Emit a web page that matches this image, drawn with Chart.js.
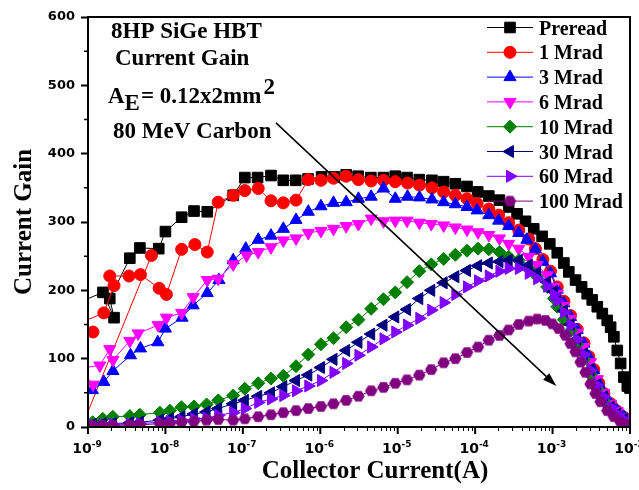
<!DOCTYPE html>
<html>
<head>
<meta charset="utf-8">
<title>8HP SiGe HBT Current Gain</title>
<script src="https://cdn.jsdelivr.net/npm/chart.js@4.4.1/dist/chart.umd.min.js"></script>
<style>
  html, body { margin: 0; padding: 0; background: #fff; }
  #wrap { width: 639px; height: 490px; }
</style>
</head>
<body>
<div id="wrap"><canvas id="gainChart" width="639" height="490"></canvas></div>
<script>
// Current gain vs collector current, one series per carbon dose.
// Each point: [collector current (A), current gain], listed in sweep order.

const preradGain = [[7.9e-10,183],[1.56e-9,197],[2.17e-9,160],[1.91e-9,188],[3.47e-9,247],[4.68e-9,262],[8.2e-9,261],[1.0e-8,286],[1.62e-8,307],[2.34e-8,316],[3.47e-8,315],[7.5e-8,339],[1.06e-7,365],[1.55e-7,365],[2.31e-7,368],[3.33e-7,361],[4.82e-7,361],[6.95e-7,363],[1.04e-6,366],[1.52e-6,366],[2.16e-6,369],[3.08e-6,367],[4.5e-6,365],[6.55e-6,365],[9.3e-6,367],[1.32e-5,365],[1.9e-5,362],[2.77e-5,361],[3.92e-5,359],[5.55e-5,356],[7.85e-5,352],[1.08e-4,344],[1.5e-4,338],[2.06e-4,332],[2.71e-4,322],[3.48e-4,312],[4.47e-4,301],[5.71e-4,290],[7.33e-4,279],[9.2e-4,268],[1.15e-3,255],[1.4e-3,240],[1.62e-3,227],[1.98e-3,215],[2.37e-3,205],[2.8e-3,195],[3.25e-3,186],[3.78e-3,176],[4.39e-3,166],[5.08e-3,156],[5.62e-3,146],[6.19e-3,132],[6.85e-3,112],[7.57e-3,93],[8.34e-3,73],[9.23e-3,60],[1.0e-2,57]];

const gain1Mrad = [[6.6e-9,251],[8.3e-10,0],[7.5e-10,139],[1.16e-9,139],[7.8e-10,152],[1.6e-9,167],[2.17e-9,207],[1.91e-9,221],[3.39e-9,221],[4.76e-9,223],[8.3e-9,203],[1.03e-8,194],[1.62e-8,260],[2.4e-8,267],[3.47e-8,256],[4.8e-8,329],[7.5e-8,339],[1.06e-7,346],[1.58e-7,349],[2.31e-7,331],[3.33e-7,328],[4.86e-7,332],[7.0e-7,362],[1.02e-6,361],[1.48e-6,364],[2.16e-6,367],[3.11e-6,362],[4.54e-6,360],[6.55e-6,361],[9.3e-6,359],[1.34e-5,357],[1.91e-5,354],[2.77e-5,350],[3.92e-5,344],[5.55e-5,339],[7.85e-5,334],[1.06e-4,327],[1.5e-4,319],[2.01e-4,310],[2.71e-4,299],[3.66e-4,288],[4.92e-4,275],[6.0e-4,261],[7.5e-4,245],[9.4e-4,228],[1.15e-3,205],[1.4e-3,184],[1.71e-3,163],[2.08e-3,143],[2.54e-3,123],[2.94e-3,103],[3.41e-3,84],[3.96e-3,64],[4.6e-3,49],[5.63e-3,34],[6.86e-3,23],[8.34e-3,14],[1.0e-2,9]];

const gain3Mrad = [[1.14e-9,54],[1.6e-9,66],[2.1e-9,82],[3.54e-9,105],[4.76e-9,115],[7.98e-9,124],[1.0e-8,144],[1.64e-8,160],[2.28e-8,178],[3.47e-8,196],[4.91e-8,215],[7.5e-8,244],[1.09e-7,261],[1.58e-7,274],[2.31e-7,280],[3.33e-7,290],[4.86e-7,303],[7.0e-7,315],[1.02e-6,323],[1.48e-6,328],[2.16e-6,329],[3.11e-6,334],[4.54e-6,337],[6.55e-6,349],[9.3e-6,334],[1.34e-5,337],[1.91e-5,336],[2.77e-5,333],[3.92e-5,329],[5.55e-5,326],[7.85e-5,322],[1.06e-4,317],[1.5e-4,310],[2.01e-4,302],[2.71e-4,294],[3.66e-4,284],[4.66e-4,274],[6.0e-4,260],[7.5e-4,242],[9.4e-4,225],[1.15e-3,201],[1.4e-3,181],[1.71e-3,161],[2.08e-3,142],[2.54e-3,122],[2.94e-3,103],[3.41e-3,83],[3.96e-3,64],[4.6e-3,49],[5.63e-3,34],[6.86e-3,24],[8.34e-3,15],[1.0e-2,10]];

const gain6Mrad = [[1.16e-9,62],[7.8e-10,86],[1.42e-9,90],[1.91e-9,114],[2.1e-9,98],[3.47e-9,126],[4.44e-9,137],[8.05e-9,149],[1.03e-8,160],[1.62e-8,167],[2.28e-8,190],[3.47e-8,215],[4.8e-8,217],[7.5e-8,238],[1.12e-7,251],[1.58e-7,256],[2.31e-7,263],[3.33e-7,273],[4.86e-7,276],[7.0e-7,284],[1.02e-6,287],[1.48e-6,290],[2.16e-6,294],[3.11e-6,297],[4.54e-6,305],[6.55e-6,301],[9.3e-6,302],[1.32e-5,302],[1.9e-5,299],[2.71e-5,297],[3.92e-5,295],[5.55e-5,292],[7.85e-5,289],[1.09e-4,285],[1.5e-4,281],[2.06e-4,276],[2.71e-4,268],[3.66e-4,261],[4.92e-4,249],[6.32e-4,237],[8.51e-4,222],[1.04e-3,205],[1.15e-3,195],[1.4e-3,177],[1.71e-3,158],[2.08e-3,138],[2.54e-3,117],[3.09e-3,95],[3.78e-3,70],[4.6e-3,50],[5.63e-3,34],[6.86e-3,23],[8.34e-3,14],[1.0e-2,9]];

const gain10Mrad = [[1.15e-9,7],[1.55e-9,12],[2.09e-9,15],[3.47e-9,16],[4.67e-9,18],[8.47e-9,21],[1.14e-8,24],[1.61e-8,29],[2.33e-8,30],[3.4e-8,33],[4.81e-8,39],[7.5e-8,46],[1.06e-7,56],[1.58e-7,64],[2.31e-7,71],[3.33e-7,75],[4.86e-7,89],[7.0e-7,106],[1.02e-6,121],[1.48e-6,130],[2.16e-6,146],[3.11e-6,157],[4.54e-6,173],[6.55e-6,187],[9.3e-6,197],[1.32e-5,212],[1.9e-5,228],[2.71e-5,238],[3.92e-5,246],[5.55e-5,252],[7.85e-5,258],[1.09e-4,261],[1.5e-4,260],[2.06e-4,256],[2.71e-4,249],[3.66e-4,244],[4.92e-4,232],[6.32e-4,220],[8.51e-4,205],[1.04e-3,188],[1.15e-3,176],[1.4e-3,157],[1.71e-3,141],[2.08e-3,121],[2.54e-3,99],[3.09e-3,77],[3.78e-3,56],[4.6e-3,38],[5.63e-3,24],[6.86e-3,15],[8.34e-3,9],[1.0e-2,5]];

const gain30Mrad = [[1.15e-9,4],[1.55e-9,5],[2.09e-9,5],[3.47e-9,6],[4.67e-9,7],[8.47e-9,10],[1.14e-8,12],[1.61e-8,15],[2.33e-8,19],[3.4e-8,22],[4.81e-8,27],[7.5e-8,34],[1.06e-7,39],[1.58e-7,45],[2.31e-7,50],[3.33e-7,59],[4.86e-7,68],[7.0e-7,76],[1.02e-6,87],[1.48e-6,99],[2.16e-6,112],[3.11e-6,124],[4.54e-6,136],[6.55e-6,149],[9.3e-6,161],[1.32e-5,172],[1.9e-5,188],[2.71e-5,200],[3.92e-5,211],[5.55e-5,220],[7.85e-5,229],[1.09e-4,236],[1.5e-4,240],[2.06e-4,242],[2.71e-4,244],[3.66e-4,244],[4.92e-4,237],[6.32e-4,226],[8.51e-4,212],[1.04e-3,198],[1.15e-3,188],[1.4e-3,170],[1.71e-3,150],[2.08e-3,129],[2.54e-3,107],[3.09e-3,84],[3.78e-3,62],[4.6e-3,44],[5.63e-3,29],[6.86e-3,19],[8.34e-3,11],[1.0e-2,6]];

const gain60Mrad = [[1.15e-9,3],[1.55e-9,3],[2.09e-9,4],[3.47e-9,4],[4.67e-9,5],[8.47e-9,7],[1.14e-8,8],[1.61e-8,10],[2.33e-8,12],[3.4e-8,13],[4.81e-8,17],[7.5e-8,21],[1.06e-7,27],[1.58e-7,36],[2.31e-7,41],[3.33e-7,46],[4.86e-7,53],[7.0e-7,60],[1.02e-6,68],[1.48e-6,80],[2.16e-6,93],[3.11e-6,105],[4.54e-6,117],[6.55e-6,129],[9.3e-6,139],[1.32e-5,149],[1.9e-5,159],[2.71e-5,171],[3.92e-5,182],[5.55e-5,194],[7.85e-5,205],[1.09e-4,214],[1.5e-4,221],[2.06e-4,228],[2.71e-4,232],[3.66e-4,232],[4.92e-4,225],[6.32e-4,217],[8.51e-4,206],[1.04e-3,194],[1.15e-3,185],[1.4e-3,168],[1.71e-3,149],[2.08e-3,128],[2.54e-3,106],[3.09e-3,83],[3.78e-3,61],[4.6e-3,44],[5.63e-3,29],[6.86e-3,19],[8.34e-3,11],[1.0e-2,6]];

const gain100Mrad = [[1.15e-9,2],[1.55e-9,2],[2.09e-9,2],[3.47e-9,3],[4.67e-9,3],[8.47e-9,5],[1.14e-8,5],[1.61e-8,7],[2.33e-8,8],[3.4e-8,10],[4.81e-8,11],[7.5e-8,10],[1.06e-7,12],[1.58e-7,15],[2.31e-7,18],[3.33e-7,21],[4.86e-7,24],[7.0e-7,27],[1.02e-6,30],[1.48e-6,34],[2.16e-6,39],[3.11e-6,45],[4.54e-6,53],[6.55e-6,58],[9.3e-6,64],[1.32e-5,69],[1.9e-5,76],[2.71e-5,84],[3.92e-5,94],[5.55e-5,100],[7.85e-5,109],[1.09e-4,117],[1.5e-4,127],[2.06e-4,134],[2.71e-4,142],[3.66e-4,150],[4.92e-4,155],[6.32e-4,158],[8.1e-4,156],[9.9e-4,151],[1.2e-3,144],[1.47e-3,134],[1.71e-3,122],[1.98e-3,110],[2.3e-3,95],[2.66e-3,80],[3.09e-3,63],[3.59e-3,49],[4.17e-3,37],[5.08e-3,24],[6.19e-3,15],[7.57e-3,7],[9.23e-3,4],[1.0e-2,2]];

const seriesLabels = ['Preread', '1 Mrad', '3 Mrad', '6 Mrad', '10 Mrad', '30 Mrad', '60 Mrad', '100 Mrad'];
const seriesData = [preradGain, gain1Mrad, gain3Mrad, gain6Mrad, gain10Mrad, gain30Mrad, gain60Mrad, gain100Mrad];
const xTickExponents = [-9, -8, -7, -6, -5, -4, -3, -2];
const yTickStep = 100;

// styling
const seriesColors = ['#000000', '#ff0000', '#0000ff', '#ff00ff', '#008000', '#000080', '#8000ff', '#800080'];

// Chart.js has no hexagon marker, so build one as an image
function makeHexagon(color, r) {
    const c = document.createElement('canvas');
    const size = Math.ceil(r * 2) + 2;
    c.width = size;
    c.height = size;
    const g = c.getContext('2d');
    g.fillStyle = color;
    g.beginPath();
    for (let i = 0; i < 6; i++) {
        const a = Math.PI / 3 * i;
        const px = size / 2 + r * Math.cos(a);
        const py = size / 2 + r * Math.sin(a);
        if (i === 0) g.moveTo(px, py); else g.lineTo(px, py);
    }
    g.closePath();
    g.fill();
    return c;
}

const markerStyles = ['rect', 'circle', 'triangle', 'triangle', 'rectRot', 'triangle', 'triangle', makeHexagon('#800080', 6.2)];
const markerRotations = [0, 0, 0, 180, 0, -90, 90, 0];
const markerRadius = [7.5, 6, 7, 7, 6.5, 7, 7, 6];

const serifBold = '"Liberation Serif", "Times New Roman", serif';
const sansBold = '"DejaVu Sans", Arial, sans-serif';

// arrow drawn in data units: [current, gain]
const arrowFrom = [2.68e-7, 445];
const arrowTo = [1.12e-3, 60];

function drawMarker(ctx, i, x, y) {
    ctx.fillStyle = seriesColors[i];
    ctx.strokeStyle = seriesColors[i];
    ctx.lineWidth = 1;
    Chart.helpers.drawPoint(ctx, {
        pointStyle: markerStyles[i],
        rotation: markerRotations[i],
        radius: markerRadius[i],
        borderWidth: 1
    }, x, y);
}

const decorPlugin = {
    id: 'gainDecor',
    afterDatasetsDraw(chart) {
        const ctx = chart.ctx;
        const area = chart.chartArea;
        const xs = chart.scales.x;
        const ys = chart.scales.y;
        ctx.save();
        ctx.strokeStyle = '#000';
        ctx.fillStyle = '#000';

        // frame round the plot
        ctx.lineWidth = 2;
        ctx.strokeRect(area.left, area.top, area.right - area.left, area.bottom - area.top);

        // minor ticks between the labelled gain values
        ctx.lineWidth = 1.5;
        ctx.beginPath();
        for (let v = yTickStep / 2; v < ys.max; v += yTickStep) {
            const py = ys.getPixelForValue(v);
            ctx.moveTo(area.left - 4, py);
            ctx.lineTo(area.left, py);
        }
        ctx.stroke();

        // log axis: decade ticks, sub-decade ticks and 10^n labels
        const last = xTickExponents[xTickExponents.length - 1];
        xTickExponents.forEach(e => {
            const base = Math.pow(10, e);
            const px = xs.getPixelForValue(base);
            ctx.lineWidth = 2;
            ctx.beginPath();
            ctx.moveTo(px, area.bottom);
            ctx.lineTo(px, area.bottom + 7);
            ctx.stroke();
            if (e < last) {
                ctx.lineWidth = 1;
                ctx.beginPath();
                for (let k = 2; k <= 9; k++) {
                    const mx = Math.round(xs.getPixelForValue(k * base)) + 0.5;
                    ctx.moveTo(mx, area.bottom);
                    ctx.lineTo(mx, area.bottom + 4);
                }
                ctx.stroke();
            }
            ctx.font = 'bold 14px ' + sansBold;
            const wBase = ctx.measureText('10').width;
            ctx.font = 'bold 9px ' + sansBold;
            const exp = String(e);
            const wExp = ctx.measureText(exp).width;
            const start = px - (wBase + wExp) / 2 - 1;
            ctx.textAlign = 'left';
            ctx.textBaseline = 'alphabetic';
            ctx.font = 'bold 14px ' + sansBold;
            ctx.fillText('10', start, area.bottom + 26);
            ctx.font = 'bold 9px ' + sansBold;
            ctx.fillText(exp, start + wBase, area.bottom + 20);
        });

        // axis titles
        ctx.font = 'bold 25px ' + serifBold;
        ctx.textAlign = 'center';
        ctx.fillText('Collector Current(A)', 375, 478);
        ctx.save();
        ctx.translate(31, (area.top + area.bottom) / 2);
        ctx.rotate(-Math.PI / 2);
        ctx.fillText('Current Gain', 0, 0);
        ctx.restore();

        // device notes
        ctx.textAlign = 'left';
        ctx.font = 'bold 23px ' + serifBold;
        ctx.fillText('8HP SiGe HBT', 111, 38);
        ctx.fillText('Current Gain', 115, 65);
        let tx = 108;
        ctx.fillText('A', tx, 103);
        tx += ctx.measureText('A').width;
        ctx.fillText('E', tx, 110);
        tx += ctx.measureText('E').width + 1;
        ctx.fillText('= 0.12x2mm', tx, 103);
        tx += ctx.measureText('= 0.12x2mm').width + 2;
        ctx.fillText('2', tx, 94);
        ctx.fillText('80 MeV Carbon', 113, 138);

        // dose arrow
        const ax0 = xs.getPixelForValue(arrowFrom[0]);
        const ay0 = ys.getPixelForValue(arrowFrom[1]);
        const ax1 = xs.getPixelForValue(arrowTo[0]);
        const ay1 = ys.getPixelForValue(arrowTo[1]);
        const ang = Math.atan2(ay1 - ay0, ax1 - ax0);
        const headLen = 14, headHalf = 4.5;
        const bx = ax1 - Math.cos(ang) * headLen;
        const by = ay1 - Math.sin(ang) * headLen;
        ctx.lineWidth = 1.5;
        ctx.beginPath();
        ctx.moveTo(ax0, ay0);
        ctx.lineTo(bx, by);
        ctx.stroke();
        ctx.beginPath();
        ctx.moveTo(ax1, ay1);
        ctx.lineTo(bx + Math.sin(ang) * headHalf, by - Math.cos(ang) * headHalf);
        ctx.lineTo(bx - Math.sin(ang) * headHalf, by + Math.cos(ang) * headHalf);
        ctx.closePath();
        ctx.fill();

        // legend: line with marker, then label
        ctx.font = 'bold 20px ' + serifBold;
        seriesLabels.forEach((label, i) => {
            const cy = 27.5 + i * 24.8;
            ctx.strokeStyle = seriesColors[i];
            ctx.lineWidth = 1;
            ctx.beginPath();
            ctx.moveTo(487, cy);
            ctx.lineTo(533, cy);
            ctx.stroke();
            drawMarker(ctx, i, 510, cy);
            ctx.fillStyle = '#000';
            ctx.fillText(label, 539, cy + 7);
        });

        ctx.restore();
    }
};

const datasets = seriesData.map((pts, i) => ({
    label: seriesLabels[i],
    data: pts.map(p => ({ x: p[0], y: p[1] })),
    borderColor: seriesColors[i],
    backgroundColor: seriesColors[i],
    borderWidth: 1,
    pointStyle: markerStyles[i],
    pointRotation: markerRotations[i],
    pointRadius: markerRadius[i],
    pointBackgroundColor: seriesColors[i],
    pointBorderColor: seriesColors[i],
    pointBorderWidth: 1,
    tension: 0,
    order: seriesData.length - 1 - i
}));

new Chart(document.getElementById('gainChart'), {
    type: 'line',
    data: { datasets: datasets },
    options: {
        responsive: false,
        animation: false,
        devicePixelRatio: 1,
        layout: { padding: { top: 17, right: 9, left: 0, bottom: 0 } },
        plugins: {
            legend: { display: false },
            tooltip: { enabled: false }
        },
        scales: {
            x: {
                type: 'logarithmic',
                min: 1e-9,
                max: 1e-2,
                afterFit: s => { s.height = 63; },
                grid: { display: false },
                border: { display: false },
                ticks: { display: false }
            },
            y: {
                min: 0,
                max: 600,
                afterFit: s => { s.width = 88; },
                ticks: {
                    stepSize: yTickStep,
                    color: '#000',
                    padding: 6,
                    font: { family: sansBold, size: 13, weight: 'bold' }
                },
                grid: {
                    drawOnChartArea: false,
                    tickLength: 7,
                    tickWidth: 2,
                    tickColor: '#000'
                },
                border: { display: false }
            }
        }
    },
    plugins: [decorPlugin]
});
</script>
</body>
</html>
